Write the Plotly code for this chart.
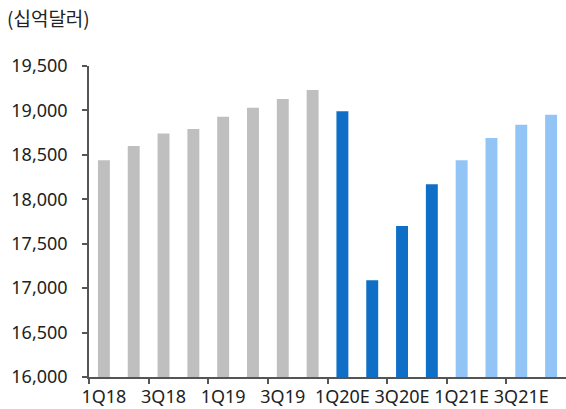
import plotly.graph_objects as go

# Quarterly GDP level (billion USD), actuals and estimates
quarters = ["1Q18", "2Q18", "3Q18", "4Q18", "1Q19", "2Q19", "3Q19", "4Q19",
            "1Q20E", "2Q20E", "3Q20E", "4Q20E", "1Q21E", "2Q21E", "3Q21E", "4Q21E"]
values = [18440, 18600, 18740, 18790, 18930, 19030, 19130, 19230,
          18990, 17090, 17700, 18170, 18440, 18690, 18840, 18950]
groups = ["actual"] * 8 + ["2020E"] * 4 + ["2021E"] * 4
group_colors = {"actual": "#BFBFBF", "2020E": "#0F6FC6", "2021E": "#92C5F5"}

y_ticks = [16000, 16500, 17000, 17500, 18000, 18500, 19000, 19500]

xs = list(range(len(quarters)))
label_idx = xs[::2]
boundary_ticks = [i - 0.5 for i in label_idx]

font_family = "Noto Sans, Noto Sans CJK KR, sans-serif"
title_family = "Noto Sans CJK KR, sans-serif"
text_color = "#222222"

fig = go.Figure(
    go.Bar(
        x=xs,
        y=values,
        marker=dict(color=[group_colors[g] for g in groups], line=dict(width=0)),
        width=0.4,
        hovertext=quarters,
    )
)

fig.update_layout(
    width=566,
    height=409,
    margin=dict(l=89, r=0, t=66, b=32),
    plot_bgcolor="white",
    paper_bgcolor="white",
    showlegend=False,
    font=dict(family=font_family, size=18, color=text_color),
    title=dict(
        text="(십억달러)",
        x=7 / 566,
        xanchor="left",
        xref="container",
        y=1 - 19 / 409,
        yanchor="middle",
        yref="container",
        font=dict(family=title_family, size=19, color=text_color),
    ),
    bargap=0.6,
)

fig.update_xaxes(
    range=[-0.5, len(quarters) - 0.5],
    tickmode="array",
    tickvals=label_idx,
    ticktext=[quarters[i] for i in label_idx],
    ticks="",
    showline=True,
    linecolor="#555555",
    linewidth=1.5,
    showgrid=False,
    zeroline=False,
    minor=dict(tickmode="array", tickvals=boundary_ticks, ticks="outside",
               ticklen=5, tickcolor="#555555", tickwidth=1.5, showgrid=False),
    ticklabelstandoff=3,
)

fig.update_yaxes(
    range=[16000, 19500],
    tickmode="array",
    tickvals=y_ticks,
    tickformat=",",
    ticks="outside",
    ticklen=5,
    tickcolor="#555555",
    tickwidth=1.5,
    showline=True,
    linecolor="#555555",
    linewidth=1.5,
    showgrid=False,
    zeroline=False,
    ticklabelstandoff=11,
)

fig.write_html("out.html")
